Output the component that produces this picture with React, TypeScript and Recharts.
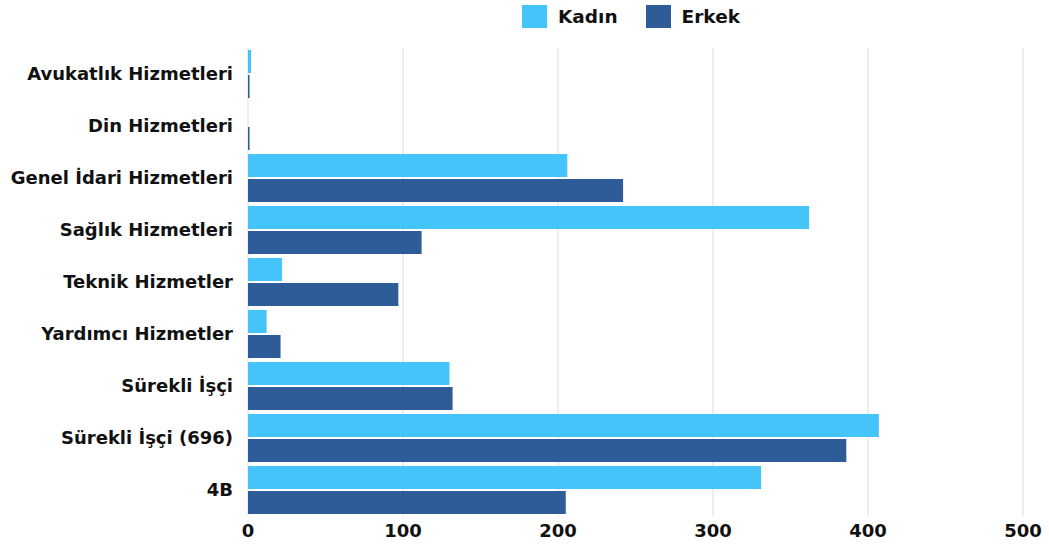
import { Bar, BarChart, CartesianGrid, XAxis, YAxis } from 'recharts'

const categories = [
  'Avukatlık Hizmetleri',
  'Din Hizmetleri',
  'Genel İdari Hizmetleri',
  'Sağlık Hizmetleri',
  'Teknik Hizmetler',
  'Yardımcı Hizmetler',
  'Sürekli İşçi',
  'Sürekli İşçi (696)',
  '4B',
]
const kadin = [2, 0, 206, 362, 22, 12, 130, 407, 331]
const erkek = [1, 1, 242, 112, 97, 21, 132, 386, 205]
const xTicks = [0, 100, 200, 300, 400, 500]

const series = [
  { key: 'kadin', name: 'Kadın', color: '#45C4F9' },
  { key: 'erkek', name: 'Erkek', color: '#2E5C99' },
]

const data = categories.map((name, i) => ({ name, kadin: kadin[i], erkek: erkek[i] }))

const font = '"DejaVu Sans", sans-serif'

function LegendBox() {
  return (
    <div
      style={{
        position: 'absolute',
        top: 5,
        left: 522,
        display: 'flex',
        gap: 28,
        fontFamily: font,
        fontWeight: 700,
        fontSize: 18.5,
        color: '#111',
      }}
    >
      {series.map((s) => (
        <div key={s.key} style={{ display: 'flex', alignItems: 'center', gap: 11 }}>
          <span style={{ width: 25, height: 23, background: s.color, display: 'inline-block' }} />
          <span>{s.name}</span>
        </div>
      ))}
    </div>
  )
}

export default function App() {
  return (
    <div style={{ position: 'absolute', left: 0, top: 0, width: 1049, height: 548, background: '#fff' }}>
      <BarChart
        width={1049}
        height={548}
        data={data}
        layout="vertical"
        margin={{ top: 48, right: 26, left: 0, bottom: 0 }}
        barCategoryGap={2}
        barGap={2}
      >
        <CartesianGrid horizontal={false} stroke="#dcdcdc" />
        <XAxis
          type="number"
          domain={[0, 500]}
          ticks={xTicks}
          axisLine={false}
          tickLine={false}
          height={32}
          tickMargin={2}
          tick={{ fill: '#111', fontSize: 18, fontWeight: 700, fontFamily: font }}
        />
        <YAxis
          type="category"
          dataKey="name"
          width={248}
          axisLine={false}
          tickLine={false}
          tickSize={0}
          tickMargin={15}
          tick={{ fill: '#111', fontSize: 18, fontWeight: 700, fontFamily: font }}
        />
        {series.map((s) => (
          <Bar key={s.key} dataKey={s.key} name={s.name} fill={s.color} isAnimationActive={false} />
        ))}
      </BarChart>
      <LegendBox />
    </div>
  )
}
